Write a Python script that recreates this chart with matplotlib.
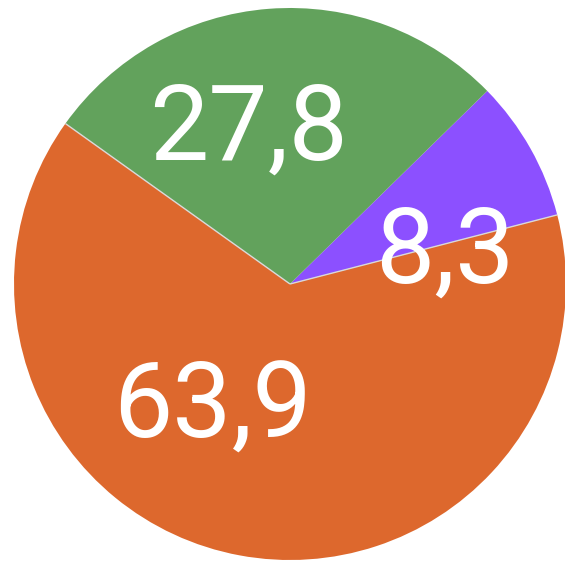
import matplotlib
matplotlib.use('Agg')
import matplotlib.pyplot as plt
import numpy as np

# Slice data (counter-clockwise, starting at the purple slice)
labels = ['8,3', '27,8', '63,9']
values = [8.3, 27.8, 63.9]
colors = ['#8C50FF', '#62A25C', '#DD682D']

W, H = 565, 563
cx, cy, r = 290, 284, 276  # pie centre and radius in pixels

fig = plt.figure(figsize=(W / 100, H / 100), dpi=100)
fig.patch.set_facecolor('white')
ax = fig.add_axes([0, 0, 1, 1])

wedges, _ = ax.pie(values, colors=colors, startangle=14.5, counterclock=True,
                   radius=1.0, wedgeprops=dict(linewidth=0))

# thin light seams along both straight edges of the orange slice
for th in (wedges[2].theta1, wedges[2].theta2):
    t = np.deg2rad(th)
    ax.plot([0, np.cos(t)], [0, np.sin(t)], color='#d9d9d9', lw=1.0,
            solid_capstyle='butt', zorder=3)

ax.set_xlim(-cx / r, (W - cx) / r)
ax.set_ylim(-(H - cy) / r, cy / r)
ax.set_aspect('equal')
ax.axis('off')

# label anchors (pixel centre x, baseline y)
label_px = [(445, 283), (248, 160), (213, 438)]
for lab, (px, py) in zip(labels, label_px):
    ax.text((px - cx) / r, (cy - py) / r, lab, fontsize=76, color='white',
            family='Roboto', ha='center', va='baseline', zorder=4)

fig.savefig('out.png', dpi=100, facecolor='white')
